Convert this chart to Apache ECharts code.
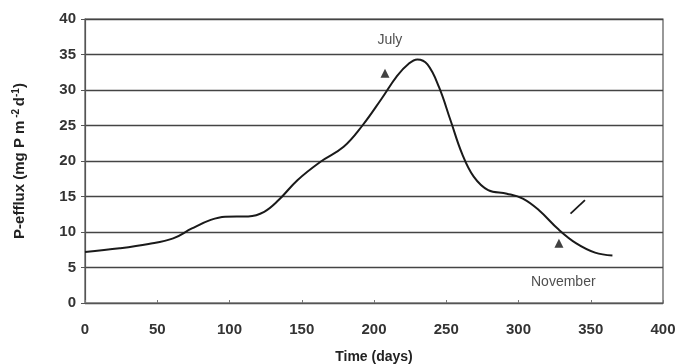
<!DOCTYPE html>
<html><head><meta charset="utf-8">
<script src="https://cdn.jsdelivr.net/npm/echarts@6/dist/echarts.min.js"></script>
<style>html,body{margin:0;padding:0;background:#fff}#c{width:679px;height:364px}</style>
</head><body><div id="c"></div>
<script>
var days = [0, 24, 44, 61, 74, 87, 97, 113, 124, 134, 147, 163, 179, 192, 205, 216, 224, 230, 237, 245, 253, 261, 269, 279, 292, 303, 314, 328, 340, 353, 365];
var efflux = [7.2, 7.7, 8.3, 9.1, 10.5, 11.7, 12.15, 12.2, 12.85, 14.5, 17.3, 19.9, 22, 25, 28.7, 32, 33.7, 34.3, 33.6, 30.4, 25.7, 21, 17.8, 15.9, 15.4, 14.7, 13.1, 10.3, 8.4, 7.1, 6.7];
var markDays = [207.6, 328];
var markVals = [32.35, 8.4];
var dashDays = [336, 346];
var dashVals = [12.6, 14.5];
var annotations = [{text: 'July', day: 211, val: 37}, {text: 'November', day: 331, val: 2.9}];
var xTicks = {min: 0, max: 400, interval: 50};
var yTicks = {min: 0, max: 40, interval: 5};

var chart = echarts.init(document.getElementById('c'));
var font = 'Arial, "Liberation Sans", sans-serif';
chart.setOption({
  animation: false,
  grid: {left: 85, right: 16, top: 19, bottom: 61, show: true, borderColor: '#555', borderWidth: 1.2,
         containLabel: false, outerBoundsMode: 'none'},
  xAxis: {
    type: 'value', min: xTicks.min, max: xTicks.max, interval: xTicks.interval,
    name: 'Time (days)', nameLocation: 'middle', nameGap: 47,
    nameTextStyle: {fontFamily: font, fontWeight: 'bold', fontSize: 14, color: '#222'},
    axisLine: {lineStyle: {color: '#555', width: 1.2}},
    axisTick: {show: true, inside: true, length: 3, lineStyle: {color: '#777'}},
    axisLabel: {margin: 19, fontFamily: font, fontWeight: 'bold', fontSize: 15, color: '#333'},
    splitLine: {show: false}
  },
  yAxis: {
    type: 'value', min: yTicks.min, max: yTicks.max, interval: yTicks.interval,
    name: '{n|P-efflux (mg P m}{s| -2 }{n|d}{s|-1}{n|)}', nameLocation: 'middle', nameGap: 56,
    nameTextStyle: {rich: {
      n: {fontFamily: font, fontWeight: 'bold', fontSize: 15, color: '#222'},
      s: {fontFamily: font, fontWeight: 'bold', fontSize: 10, color: '#222', verticalAlign: 'top', padding: [0, 0, 8, 0]}
    }},
    axisLine: {show: true, lineStyle: {color: '#555', width: 1.2}},
    axisTick: {show: true, length: 4, lineStyle: {color: '#555'}},
    axisLabel: {margin: 9, fontFamily: font, fontWeight: 'bold', fontSize: 15, color: '#333'},
    splitLine: {show: true, lineStyle: {color: '#444', width: 1.3}}
  },
  series: [
    {type: 'line', data: days.map(function (d, i) { return [d, efflux[i]]; }), smooth: 0.4, showSymbol: false,
     lineStyle: {color: '#1a1a1a', width: 2}},
    {type: 'scatter', data: markDays.map(function (d, i) { return [d, markVals[i]]; }), symbol: 'triangle', symbolSize: 9,
     itemStyle: {color: '#111'}},
    {type: 'line', data: dashDays.map(function (d, i) { return [d, dashVals[i]]; }), showSymbol: false,
     lineStyle: {color: '#1a1a1a', width: 1.8}},
    {type: 'scatter', data: annotations.map(function (a) { return {value: [a.day, a.val], name: a.text}; }), symbolSize: 0,
     label: {show: true, position: 'inside', formatter: function (p) { return p.name; },
       fontFamily: font, fontSize: 14, color: '#222'}}
  ]
});
</script></body></html>
